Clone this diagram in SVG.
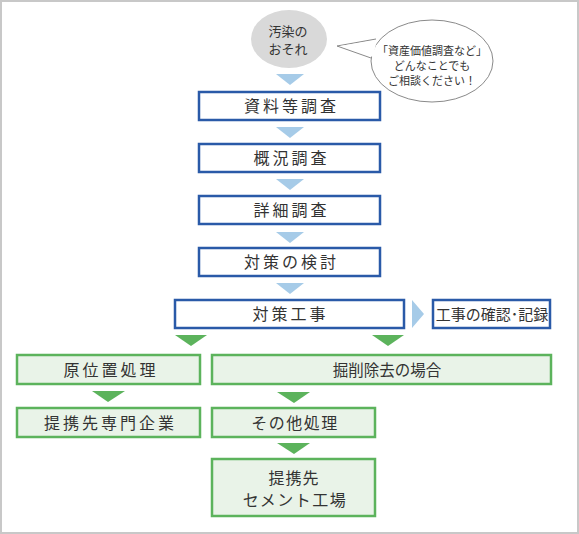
<svg xmlns="http://www.w3.org/2000/svg" width="579" height="534" viewBox="0 0 579 534">
<style>
.t{font-family:"Noto Sans CJK JP","Noto Sans CJK SC",sans-serif;fill:#333;text-anchor:middle}
.b{fill:#fff;stroke:#2a5aa8;stroke-width:2.5}
.g{fill:#e9f3e8;stroke:#5cb35c;stroke-width:2.5}
.ab{fill:#a6cbe8}
.ag{fill:#5cb35c}
</style>
<rect x="1" y="1" width="577" height="532" fill="#fff" stroke="#c8c8c8" stroke-width="2"/>
<g id="connectors">
<polygon class="ab" points="276,74 304,74 290,85"/>
<polygon class="ab" points="276,127 304,127 290,138"/>
<polygon class="ab" points="276,179 304,179 290,190"/>
<polygon class="ab" points="276,232 304,232 290,243"/>
<polygon class="ab" points="276,283 304,283 290,294"/>
<polygon class="ab" points="412,300 412,328 424,314"/>
<polygon class="ag" points="175,335 207,335 191,346"/>
<polygon class="ag" points="372,335 404,335 388,346"/>
<polygon class="ag" points="92,391 125,391 108,402"/>
<polygon class="ag" points="277,392 310,392 294,403"/>
<polygon class="ag" points="277,443 310,443 294,454"/>
</g>
<g id="n-osore">
<ellipse cx="289" cy="39" rx="38" ry="29" fill="#d9d9d9"/>
<text class="t" x="288" y="35.5" font-size="13">汚染の</text>
<text class="t" x="288" y="54" font-size="13">おそれ</text>
</g>
<g id="n-bubble">
<path d="M376,39 L337,46 L371,58" fill="#fff" stroke="#8a8a8a" stroke-width="1"/>
<ellipse cx="432" cy="61" rx="61" ry="41" fill="#fff" stroke="#8a8a8a" stroke-width="1"/>
<path d="M377,40 L340,46 L373,57 Z" fill="#fff"/>
<text class="t" x="432" y="55" font-size="11">「資産価値調査など」</text>
<text class="t" x="432" y="70" font-size="11">どんなことでも</text>
<text class="t" x="432" y="85" font-size="11">ご相談ください！</text>
</g>
<g id="n1">
<rect class="b" x="199" y="92" width="181" height="28"/>
<text class="t" x="291.5" y="111.5" font-size="16" letter-spacing="3">資料等調査</text>
</g>
<g id="n2">
<rect class="b" x="199" y="144" width="181" height="28"/>
<text class="t" x="291.5" y="163.5" font-size="16" letter-spacing="3">概況調査</text>
</g>
<g id="n3">
<rect class="b" x="199" y="196" width="181" height="28"/>
<text class="t" x="291.5" y="215.5" font-size="16" letter-spacing="3">詳細調査</text>
</g>
<g id="n4">
<rect class="b" x="199" y="248" width="181" height="28"/>
<text class="t" x="291.5" y="267.5" font-size="16" letter-spacing="3">対策の検討</text>
</g>
<g id="n5">
<rect class="b" x="175" y="300" width="229" height="28"/>
<text class="t" x="290.5" y="320" font-size="16" letter-spacing="3">対策工事</text>
</g>
<g id="n6">
<rect class="b" x="433" y="300" width="117" height="28"/>
<text class="t" x="492" y="320" font-size="15">工事の確認･記録</text>
</g>
<g id="n7">
<rect class="g" x="17" y="355" width="183" height="29"/>
<text class="t" x="111" y="375.5" font-size="16" letter-spacing="3">原位置処理</text>
</g>
<g id="n8">
<rect class="g" x="212" y="355" width="339" height="29"/>
<text class="t" x="387" y="375.5" font-size="15.5">掘削除去の場合</text>
</g>
<g id="n9">
<rect class="g" x="17" y="408" width="183" height="29"/>
<text class="t" x="110.5" y="429" font-size="16" letter-spacing="3">提携先専門企業</text>
</g>
<g id="n10">
<rect class="g" x="212" y="408" width="163" height="29"/>
<text class="t" x="295" y="428.5" font-size="16" letter-spacing="1.5">その他処理</text>
</g>
<g id="n11">
<rect class="g" x="212" y="459" width="163" height="57"/>
<text class="t" x="294" y="484" font-size="16" letter-spacing="1">提携先</text>
<text class="t" x="295" y="506" font-size="16" letter-spacing="1.5">セメント工場</text>
</g>
</svg>
